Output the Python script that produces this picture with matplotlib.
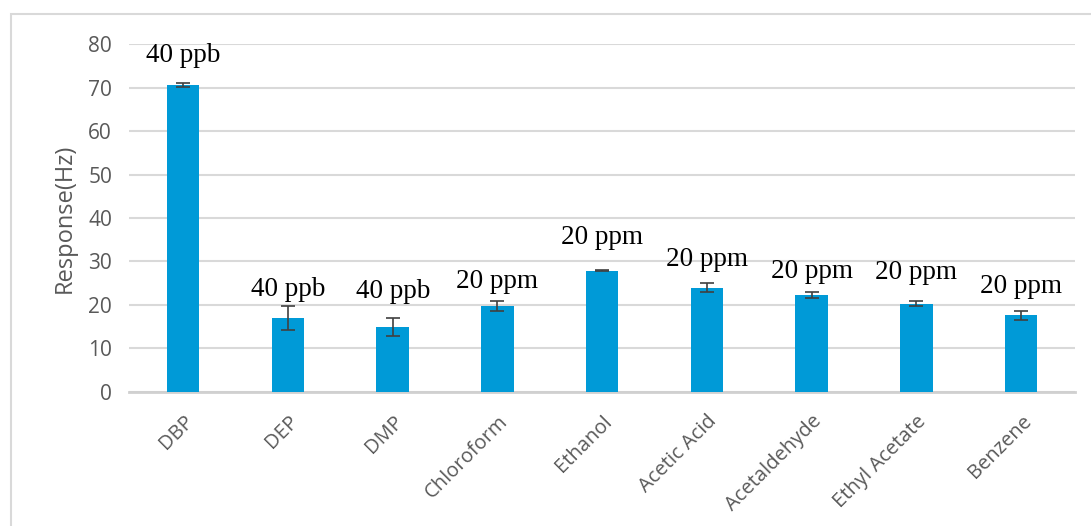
import numpy as np
import matplotlib
matplotlib.use('Agg')
import matplotlib.pyplot as plt
from matplotlib.patches import Rectangle

# data
gases = ['DBP', 'DEP', 'DMP', 'Chloroform', 'Ethanol', 'Acetic Acid',
         'Acetaldehyde', 'Ethyl Acetate', 'Benzene']
response = [70.6, 17.0, 14.9, 19.7, 27.9, 24.0, 22.3, 20.3, 17.6]
errors = [0.4, 2.7, 2.0, 1.1, 0.1, 1.1, 0.6, 0.5, 1.1]
conc = ['40 ppb', '40 ppb', '40 ppb', '20 ppm', '20 ppm', '20 ppm',
        '20 ppm', '20 ppm', '20 ppm']
label_y = [77.5, 23.5, 23.0, 25.3, 35.6, 30.4, 27.8, 27.4, 24.2]   # where the concentration labels sit

yticks = [0, 10, 20, 30, 40, 50, 60, 70, 80]

grey = '#595959'
fig = plt.figure(figsize=(10.91, 5.26), dpi=100)
ax = fig.add_axes([0.118, 0.255, 0.867, 0.661])

x = np.arange(len(gases))
ax.bar(x, response, width=0.31, color='#009AD7', zorder=3)
ax.errorbar(x, response, yerr=errors, fmt='none', ecolor='#404040',
            elinewidth=1.2, capsize=5, capthick=1.2, zorder=4)

for xi, yi, t in zip(x, label_y, conc):
    ax.text(xi, yi, t, ha='center', va='center', fontsize=19.5,
            family='Liberation Serif', color='black', zorder=5)

ax.set_xlim(-0.52, 8.51)
ax.set_ylim(0, 80)
ax.set_yticks(yticks)
ax.set_yticklabels([str(v) for v in yticks], fontsize=15, color=grey, family='Open Sans')
ax.set_xticks(x)
ax.set_xticklabels(gases, rotation=45, ha='right', rotation_mode='anchor',
                   fontsize=14.5, color=grey, family='Open Sans')
ax.tick_params(axis='y', length=0, pad=12)
ax.tick_params(axis='x', length=0, pad=14)
ax.set_ylabel('Response(Hz)', fontsize=17, color=grey, family='Open Sans', labelpad=8)

ax.grid(axis='y', color='#d9d9d9', linewidth=1.5, zorder=0)
for s in ['top', 'right', 'left']:
    ax.spines[s].set_visible(False)
ax.spines['bottom'].set_color('#d0d0d0')
ax.spines['bottom'].set_linewidth(2)

# outer chart border, cut off at right and bottom like the reference
fig.patches.append(Rectangle((0.010, -0.05), 1.2, 1.023, transform=fig.transFigure,
                             fill=False, edgecolor='#d9d9d9', linewidth=1.5))

fig.savefig('out.png', dpi=100)
